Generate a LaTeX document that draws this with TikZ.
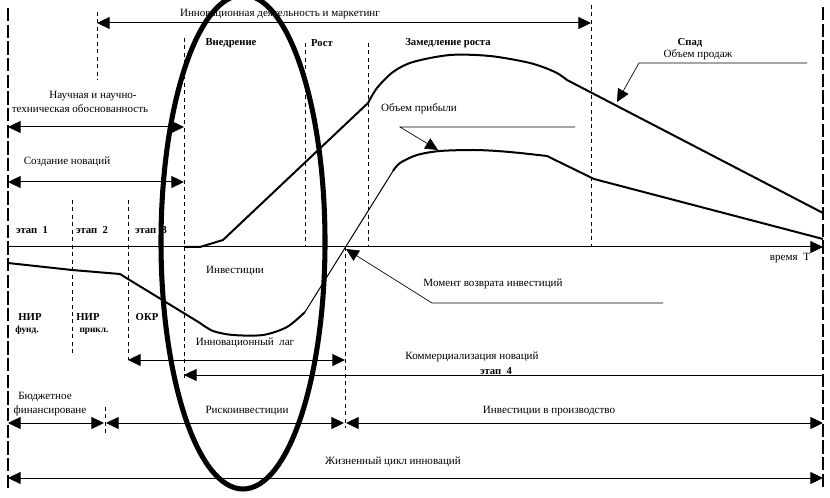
\documentclass[tikz,border=0pt]{standalone}
\usepackage{fontspec}
\setmainfont{Liberation Serif}
\usetikzlibrary{arrows.meta}
\begin{document}
\begin{tikzpicture}[x=0.75pt,y=-0.75pt,
  >={Triangle[length=9.5pt,width=9pt]},
  lbl/.style={font=\fontsize{8.3}{9}\selectfont, inner sep=0pt},
  blbl/.style={font=\fontsize{8}{9}\selectfont\bfseries, inner sep=0pt},
  sblbl/.style={font=\fontsize{7}{8}\selectfont\bfseries, inner sep=0pt},
  vdash/.style={dash pattern=on 3pt off 2.6pt, line width=0.6pt},
  border/.style={dash pattern=on 10pt off 2.5pt, line width=0.9pt},
  thinl/.style={line width=0.75pt},
  hair/.style={line width=0.5pt},
  curve/.style={line width=1.5pt, line join=round},
  oval/.style={line width=3.8pt}]
\clip (0,0) rectangle (830,498);
\fill[white] (0,0) rectangle (830,498);

% ---------- border lines
\coordinate (Lt) at (8,8);   \coordinate (Lb) at (8,488);
\coordinate (Rt) at (823,7); \coordinate (Rb) at (823,488);
\draw[border] (Lt) -- (Lb);
\draw[border] (Rt) -- (Rb);

% ---------- dashed verticals
\coordinate (v1t) at (97,12);  \coordinate (v1b) at (97,80);
\coordinate (v2t) at (184,38); \coordinate (v2b) at (184,378);
\coordinate (v3t) at (305,43); \coordinate (v3b) at (305,247);
\coordinate (v4t) at (368,43); \coordinate (v4b) at (368,247);
\coordinate (v5t) at (591,5);  \coordinate (v5b) at (591,247);
\coordinate (v6t) at (72,200); \coordinate (v6b) at (72,355);
\coordinate (v7t) at (128,200);\coordinate (v7b) at (128,360);
\coordinate (v8t) at (345,247);\coordinate (v8b) at (345,428);
\coordinate (v9t) at (105,407);\coordinate (v9b) at (105,433);
\foreach \i in {1,...,9} \draw[vdash] (v\i t) -- (v\i b);

% ---------- arrows
\coordinate (a1l) at (97,23);  \coordinate (a1r) at (591,23);
\draw[thinl,<->] (a1l) -- (a1r);
\coordinate (a2l) at (8,127);  \coordinate (a2r) at (184,127);
\draw[thinl,<->] (a2l) -- (a2r);
\coordinate (a3l) at (8,182);  \coordinate (a3r) at (184,182);
\draw[thinl,<->] (a3l) -- (a3r);
\coordinate (ax0) at (8,247);  \coordinate (ax1) at (823,247);
\draw[thinl,->] (ax0) -- (ax1);
\coordinate (a5l) at (128,360); \coordinate (a5r) at (345,360);
\draw[thinl,<->] (a5l) -- (a5r);
\coordinate (a6l) at (184,375); \coordinate (a6r) at (823,375);
\draw[thinl,<-] (a6l) -- (a6r);
\coordinate (b0) at (8,423); \coordinate (b1) at (104,423);
\coordinate (b1r) at (106,423); \coordinate (b2) at (344,423);
\coordinate (b2r) at (346,423); \coordinate (b3) at (823,423);
\draw[thinl,<->] (b0) -- (b1);
\draw[thinl,<->] (b1r) -- (b2);
\draw[thinl,<->] (b2r) -- (b3);
\coordinate (c0) at (8,478); \coordinate (c1) at (823,478);
\draw[thinl,<->] (c0) -- (c1);

% ---------- sales curve
\coordinate (s0) at (184,247); \coordinate (s1) at (200,247);
\coordinate (s2) at (223,240); \coordinate (s3) at (368,103);
\coordinate (s4) at (567,80);  \coordinate (s5) at (823,213);
\draw[curve] (s0) -- (s1) -- (s2) -- (s3)
  plot[smooth] coordinates {(368,103) (377,88) (393,72) (413,62) (450,55) (490,56) (530,63) (555,72) (567,80)}
  -- (s5);

% ---------- profit curve
\coordinate (p0) at (8,263);   \coordinate (p1) at (72,270);
\coordinate (p2) at (120,274); \coordinate (p3) at (128,279);
\coordinate (p4) at (200,323); \coordinate (p5) at (305,312);
\coordinate (p6) at (393,171); \coordinate (p7) at (547,156);
\coordinate (p8) at (594,179); \coordinate (p9) at (823,239);
\draw[curve] (p0) -- (p1) -- (p2) -- (p3) -- (p4)
  plot[smooth] coordinates {(200,323) (213,331) (233,335) (263,335) (287,327) (305,312)};
\draw[thinl] (p5) -- (p6);
\draw[curve] plot[smooth] coordinates {(393,171) (400,163) (417,155) (440,151) (473,150) (497,151) (520,153) (547,156)}
  -- (p8) -- (p9);

% ---------- leaders
\coordinate (ls0) at (807,63); \coordinate (ls1) at (639,63); \coordinate (ls2) at (617,102);
\draw[hair,->] (ls0) -- (ls1) -- (ls2);
\coordinate (lp0) at (575,127); \coordinate (lp1) at (400,127); \coordinate (lp2) at (438,150);
\draw[hair,->] (lp0) -- (lp1) -- (lp2);
\coordinate (lm0) at (663,303); \coordinate (lm1) at (432,303); \coordinate (lm2) at (346,249);
\draw[hair,->] (lm0) -- (lm1) -- (lm2);

% ---------- oval
\coordinate (oc) at (243,242);
\draw[oval] (oc) ellipse [x radius=82, y radius=247];

% ---------- labels
\node[lbl] (t1) at (280,14) {Инновационная деятельность и маркетинг};
\node[blbl] (t2) at (231,43) {Внедрение};
\node[blbl] (t3) at (322,43) {Рост};
\node[blbl] (t4) at (448,43) {Замедление роста};
\node[blbl] (t5) at (690,43) {Спад};
\node[lbl] (t6) at (698,55) {Объем продаж};
\node[lbl] (t7) at (93,96) {Научная и научно-};
\node[lbl] (t8) at (80,109) {техническая обоснованность};
\node[lbl] (t9) at (67,162) {Создание новаций};
\node[blbl] (t10) at (32,230) {этап\ \ 1};
\node[blbl] (t11) at (92,230) {этап\ \ 2};
\node[blbl] (t12) at (151,230) {этап\ \ 3};
\node[lbl] (t13) at (790,258) {время\ \ Т};
\node[lbl] (t14) at (419,109) {Объем прибыли};
\node[lbl] (t15) at (235,271) {Инвестиции};
\node[blbl] (t16) at (30,317) {НИР};
\node[sblbl] (t17) at (27,330) {фунд.};
\node[blbl] (t18) at (88,317) {НИР};
\node[sblbl] (t19) at (94,331) {прикл.};
\node[blbl] (t20) at (147,317) {ОКР};
\node[lbl] (t21) at (245,343) {Инновационный\ \ лаг};
\node[lbl] (t22) at (472,357) {Коммерциализация новаций};
\node[blbl] (t23) at (496,371) {этап\ \ 4};
\node[lbl] (t24) at (45,397) {Бюджетное};
\node[lbl] (t25) at (50,411) {финансироване};
\node[lbl] (t26) at (247,411) {Рискоинвестиции};
\node[lbl] (t27) at (549,411) {Инвестиции в производство};
\node[lbl] (t28) at (393,462) {Жизненный цикл инноваций};
\node[lbl] (t29) at (493,284) {Момент возврата инвестиций};
\end{tikzpicture}
\end{document}
